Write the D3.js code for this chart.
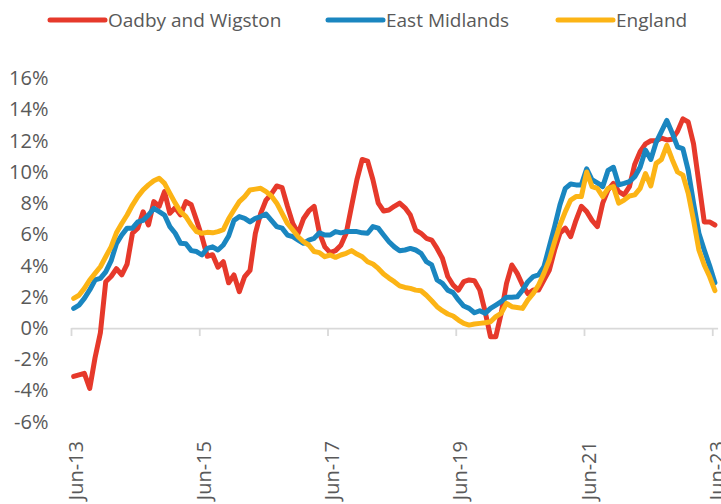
<!DOCTYPE html>
<html>
<head>
<meta charset="utf-8">
<script src="https://cdn.jsdelivr.net/npm/d3@7"></script>
<style>
  html, body { margin: 0; padding: 0; background: #fff; }
  svg { display: block; }
  text { font-family: "Open Sans", "Liberation Sans", sans-serif; fill: #595959; }
</style>
</head>
<body>
<svg id="chart" width="721" height="504"></svg>
<script>
// ---- Data (monthly, Jun-13 .. Jun-23) ----
const seriesNames = ["Oadby and Wigston", "East Midlands", "England"];
const seriesColors = ["#E6392B", "#1A86C0", "#FCB415"];

const oadby = [
  -3.1, -3.0, -2.9, -3.87, -1.9, -0.3, 2.97, 3.3, 3.8, 3.4,
  4.1, 6.07, 6.4, 7.45, 6.6, 8.1, 7.8, 8.74, 7.35, 7.7,
  7.25, 8.1, 7.9, 6.9, 5.85, 4.6, 4.7, 3.9, 4.25, 2.9,
  3.4, 2.33, 3.3, 3.7, 6.07, 7.35, 8.2, 8.6, 9.1, 9.0,
  7.8, 6.7, 6.07, 7.0, 7.5, 7.8, 6.07, 5.2, 4.83, 4.96,
  5.3, 6.07, 7.8, 9.5, 10.8, 10.7, 9.5, 8.0, 7.5, 7.56,
  7.8, 8.0, 7.7, 7.24, 6.28, 6.07, 5.75, 5.64, 5.1, 4.47,
  3.3, 2.76, 2.43, 2.97, 3.08, 3.03, 2.43, 1.05, -0.55, -0.55,
  0.94, 2.86, 4.04, 3.5, 2.76, 2.2, 2.43, 2.43, 3.08, 3.7,
  5.0, 6.07, 6.4, 5.85, 6.9, 7.8, 7.46, 6.9, 6.5, 8.0,
  8.85, 9.27, 8.74, 8.53, 9.06, 10.5, 11.3, 11.8, 12.0, 12.0,
  12.16, 12.05, 12.1, 12.6, 13.4, 13.2, 11.8, 9.3, 6.8, 6.8,
  6.6
];
const eastMidlands = [
  1.26, 1.47, 1.9, 2.44, 3.08, 3.18, 3.6, 4.3, 5.4, 5.96,
  6.4, 6.4, 6.8, 6.9, 7.24, 7.67, 7.46, 7.24, 6.5, 6.07,
  5.43, 5.4, 4.96, 4.9, 4.68, 5.1, 5.2, 5.0, 5.32, 5.9,
  6.9, 7.14, 7.03, 6.8, 7.03, 7.14, 7.3, 6.9, 6.5, 6.4,
  5.96, 5.85, 5.64, 5.43, 5.64, 5.75, 6.1, 5.96, 5.96, 6.18,
  6.1, 6.18, 6.18, 6.18, 6.1, 6.07, 6.5, 6.4, 5.96, 5.53,
  5.2, 4.95, 5.0, 5.1, 5.0, 4.79, 4.25, 4.04, 3.08, 2.86,
  2.43, 2.27, 1.8, 1.41, 1.26, 0.98, 1.11, 0.94, 1.26, 1.47,
  1.69, 1.97, 1.97, 2.0, 2.43, 2.97, 3.3, 3.4, 3.93, 5.21,
  6.5, 7.9, 8.95, 9.23, 9.17, 9.17, 10.2, 9.5, 9.3, 9.06,
  10.1, 10.3, 9.17, 9.27, 9.38, 9.7, 10.3, 11.4, 10.8, 11.9,
  12.6, 13.3, 12.5, 11.6, 11.5, 10.1, 8.0, 6.07, 5.0, 4.0,
  2.9
];
const england = [
  1.9, 2.1, 2.54, 3.08, 3.5, 3.93, 4.57, 5.2, 6.1, 6.7,
  7.24, 7.88, 8.42, 8.85, 9.17, 9.44, 9.6, 9.27, 8.63, 8.0,
  7.46, 7.14, 6.6, 6.18, 6.07, 6.13, 6.1, 6.18, 6.3, 7.0,
  7.56, 8.1, 8.42, 8.85, 8.9, 8.95, 8.74, 8.46, 8.0, 7.35,
  6.7, 6.28, 5.85, 5.53, 5.32, 4.9, 4.83, 4.57, 4.68, 4.53,
  4.68, 4.79, 4.96, 4.74, 4.57, 4.25, 4.1, 3.82, 3.46, 3.2,
  2.97, 2.7, 2.6, 2.54, 2.43, 2.39, 2.1, 1.75, 1.37, 1.11,
  0.9, 0.77, 0.51, 0.3, 0.19, 0.26, 0.3, 0.34, 0.4, 0.73,
  0.94, 1.58, 1.37, 1.32, 1.26, 1.8, 2.22, 2.76, 3.5, 4.36,
  5.53, 6.6, 7.46, 8.2, 8.42, 8.42, 10.0, 9.06, 8.95, 8.42,
  8.95, 9.06, 8.0, 8.2, 8.46, 8.53, 8.95, 9.9, 9.1, 10.55,
  10.8, 11.7, 10.8, 10.0, 9.8, 8.63, 6.9, 5.0, 4.04, 3.3,
  2.4
];
const tickMonths = [0, 24, 48, 72, 96, 120];
const tickLabels = ["Jun-13", "Jun-15", "Jun-17", "Jun-19", "Jun-21", "Jun-23"];
const yTicks = [-6, -4, -2, 0, 2, 4, 6, 8, 10, 12, 14, 16];

// ---- Chart ----
const svg = d3.select("#chart");
const nMonths = oadby.length;

const x = d3.scaleLinear().domain([0, nMonths]).range([71, 717.6]);
const y = d3.scaleLinear().domain([-6, 16]).range([421.7, 78.3]);

// Y axis (labels only)
const yAxis = svg.append("g")
  .attr("transform", "translate(48.5,0)")
  .call(d3.axisLeft(y).tickValues(yTicks).tickSize(0).tickPadding(0).tickFormat(d => d + "%"));
yAxis.select(".domain").remove();
yAxis.selectAll("text").style("font-size", "20px").attr("fill", "#595959")
  .style("font-family", "'Open Sans', sans-serif");

// X axis at 0%
const xAxis = svg.append("g")
  .attr("transform", `translate(0,${y(0)})`)
  .call(d3.axisBottom(x).tickValues(tickMonths).tickSize(8).tickSizeOuter(0)
    .tickFormat((d, i) => tickLabels[i]));
xAxis.select(".domain").attr("stroke", "#D9D9D9").attr("stroke-width", 1.8);
xAxis.selectAll(".tick line").attr("stroke", "#D9D9D9").attr("stroke-width", 1.8);
xAxis.selectAll(".tick text")
  .attr("y", 0).attr("x", 0).attr("dy", "0.35em")
  .attr("text-anchor", "end")
  .attr("transform", `translate(4,${441 - y(0)}) rotate(-90)`)
  .style("font-size", "20px").attr("fill", "#595959")
  .style("font-family", "'Open Sans', sans-serif");

// Lines
const line = d3.line().x((d, i) => x(i + 0.5)).y(d => y(d));
const allSeries = [oadby, eastMidlands, england];
svg.append("g").selectAll("path")
  .data(allSeries)
  .join("path")
  .attr("d", d => line(d))
  .attr("fill", "none")
  .attr("stroke", (d, i) => seriesColors[i])
  .attr("stroke-width", 5)
  .attr("stroke-linejoin", "round")
  .attr("stroke-linecap", "round");

// Legend
const legendX = [50, 328, 558];
const legend = svg.append("g");
seriesNames.forEach((name, i) => {
  legend.append("line")
    .attr("x1", legendX[i]).attr("x2", legendX[i] + 55)
    .attr("y1", 20).attr("y2", 20)
    .attr("stroke", seriesColors[i]).attr("stroke-width", 5)
    .attr("stroke-linecap", "round");
  legend.append("text")
    .attr("x", legendX[i] + 58).attr("y", 20).attr("dy", "0.35em")
    .style("font-size", "19px")
    .text(name);
});
</script>
</body>
</html>
